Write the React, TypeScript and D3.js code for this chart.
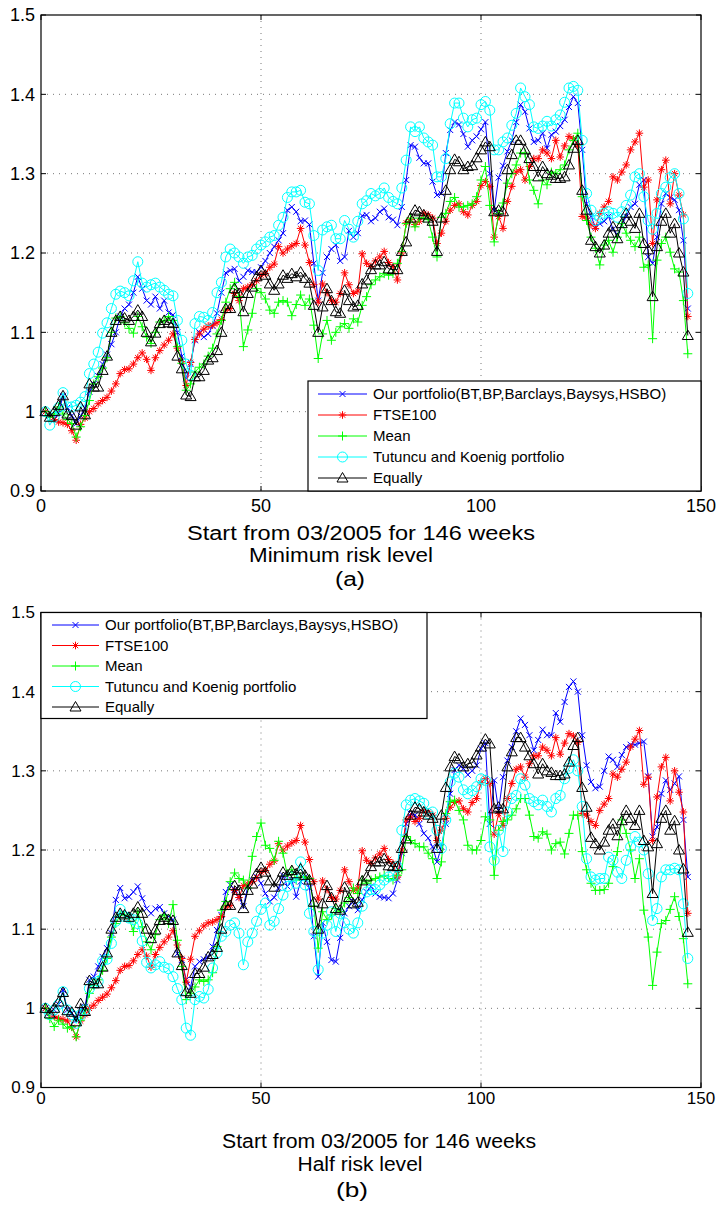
import React from 'react';
import * as d3 from 'd3';

// weekly values, weeks 1..147
const weeks = d3.range(1, 148);

const ftse100 = [
  1.000, 0.995, 0.990, 0.987, 0.986, 0.984, 0.976, 0.964, 0.984, 0.992,
  1.000, 1.004, 1.010, 1.014, 1.018, 1.026, 1.035, 1.048, 1.053, 1.054,
  1.060, 1.068, 1.074, 1.066, 1.052, 1.068, 1.077, 1.084, 1.090, 1.098,
  1.080, 1.063, 1.033, 1.062, 1.091, 1.098, 1.104, 1.108, 1.109, 1.112,
  1.116, 1.128, 1.130, 1.149, 1.140, 1.155, 1.157, 1.160, 1.165, 1.172,
  1.174, 1.182, 1.186, 1.208, 1.200, 1.205, 1.209, 1.212, 1.231, 1.210,
  1.188, 1.160, 1.138, 1.161, 1.150, 1.140, 1.138, 1.149, 1.175, 1.160,
  1.149, 1.152, 1.199, 1.187, 1.183, 1.190, 1.195, 1.202, 1.188, 1.183,
  1.166, 1.200, 1.238, 1.242, 1.236, 1.240, 1.250, 1.248, 1.244, 1.212,
  1.225, 1.240, 1.254, 1.260, 1.262, 1.252, 1.248, 1.260, 1.265, 1.285,
  1.290, 1.284, 1.220, 1.246, 1.231, 1.265, 1.284, 1.302, 1.305, 1.292,
  1.309, 1.319, 1.319, 1.330, 1.326, 1.319, 1.342, 1.321, 1.335, 1.347,
  1.344, 1.336, 1.246, 1.244, 1.236, 1.231, 1.250, 1.258, 1.265, 1.296,
  1.292, 1.302, 1.311, 1.330, 1.340, 1.351, 1.283, 1.292, 1.212, 1.267,
  1.305, 1.317, 1.262, 1.300, 1.273, 1.248, 1.120,
];

const equally = [
  1.000, 0.993, 1.000, 1.008, 1.020, 0.997, 0.995, 0.983, 1.006, 0.996,
  1.035, 1.031, 1.031, 1.052, 1.070, 1.100, 1.115, 1.120, 1.118, 1.115,
  1.120, 1.128, 1.120, 1.100, 1.088, 1.099, 1.111, 1.115, 1.112, 1.111,
  1.070, 1.054, 1.021, 1.019, 1.044, 1.044, 1.052, 1.065, 1.068, 1.077,
  1.100, 1.130, 1.130, 1.155, 1.149, 1.126, 1.149, 1.157, 1.170, 1.178,
  1.172, 1.161, 1.153, 1.161, 1.172, 1.168, 1.174, 1.170, 1.176, 1.168,
  1.162, 1.134, 1.100, 1.132, 1.155, 1.140, 1.126, 1.124, 1.153, 1.140,
  1.132, 1.134, 1.161, 1.166, 1.179, 1.185, 1.185, 1.189, 1.180, 1.179,
  1.179, 1.202, 1.214, 1.244, 1.254, 1.252, 1.248, 1.244, 1.240, 1.202,
  1.244, 1.279, 1.305, 1.318, 1.315, 1.305, 1.309, 1.310, 1.320, 1.330,
  1.340, 1.334, 1.252, 1.254, 1.252, 1.305, 1.324, 1.342, 1.342, 1.330,
  1.319, 1.309, 1.296, 1.309, 1.300, 1.298, 1.294, 1.294, 1.296, 1.311,
  1.332, 1.342, 1.279, 1.254, 1.216, 1.208, 1.200, 1.210, 1.225, 1.233,
  1.218, 1.237, 1.250, 1.240, 1.231, 1.250, 1.212, 1.204, 1.145, 1.208,
  1.240, 1.250, 1.225, 1.237, 1.200, 1.176, 1.096,
];

// (a) minimum risk level
const ourPortfolioMin = [
  1.000, 0.995, 0.990, 0.998, 1.020, 1.005, 0.995, 0.985, 0.995, 1.005,
  1.025, 1.035, 1.045, 1.060, 1.072, 1.085, 1.100, 1.120, 1.130, 1.135,
  1.150, 1.170, 1.155, 1.140, 1.135, 1.145, 1.130, 1.140, 1.125, 1.122,
  1.100, 1.070, 1.042, 1.060, 1.090, 1.100, 1.094, 1.098, 1.108, 1.124,
  1.150, 1.175, 1.178, 1.180, 1.165, 1.170, 1.178, 1.176, 1.176, 1.182,
  1.190, 1.200, 1.208, 1.216, 1.225, 1.254, 1.258, 1.252, 1.240, 1.241,
  1.236, 1.187, 1.140, 1.175, 1.195, 1.205, 1.210, 1.190, 1.195, 1.228,
  1.220, 1.225, 1.247, 1.248, 1.240, 1.244, 1.252, 1.256, 1.245, 1.242,
  1.235, 1.258, 1.292, 1.336, 1.334, 1.320, 1.313, 1.313, 1.290, 1.273,
  1.275, 1.326, 1.355, 1.365, 1.362, 1.350, 1.334, 1.342, 1.347, 1.356,
  1.365, 1.300, 1.254, 1.295, 1.310, 1.328, 1.342, 1.365, 1.387, 1.378,
  1.357, 1.340, 1.342, 1.351, 1.332, 1.349, 1.353, 1.360, 1.368, 1.384,
  1.397, 1.389, 1.330, 1.262, 1.246, 1.233, 1.237, 1.240, 1.246, 1.230,
  1.223, 1.235, 1.246, 1.258, 1.262, 1.286, 1.292, 1.195, 1.187, 1.220,
  1.262, 1.275, 1.270, 1.267, 1.254, 1.216, 1.130,
];

const meanMin = [
  1.000, 0.993, 0.997, 1.006, 0.997, 0.990, 0.985, 0.968, 0.981, 0.995,
  1.014, 1.035, 1.044, 1.055, 1.068, 1.100, 1.118, 1.120, 1.112, 1.105,
  1.099, 1.120, 1.107, 1.094, 1.086, 1.100, 1.113, 1.115, 1.120, 1.115,
  1.082, 1.061, 1.027, 1.035, 1.050, 1.056, 1.060, 1.070, 1.080, 1.098,
  1.115, 1.138, 1.155, 1.163, 1.145, 1.082, 1.103, 1.124, 1.155, 1.150,
  1.142, 1.128, 1.124, 1.138, 1.140, 1.138, 1.121, 1.135, 1.147, 1.134,
  1.142, 1.109, 1.067, 1.098, 1.115, 1.090, 1.100, 1.107, 1.111, 1.105,
  1.117, 1.113, 1.134, 1.145, 1.160, 1.166, 1.170, 1.174, 1.172, 1.174,
  1.187, 1.202, 1.237, 1.244, 1.233, 1.244, 1.244, 1.242, 1.220, 1.195,
  1.245, 1.250, 1.265, 1.270, 1.258, 1.258, 1.260, 1.262, 1.271, 1.292,
  1.309, 1.260, 1.214, 1.250, 1.263, 1.288, 1.300, 1.311, 1.326, 1.326,
  1.292, 1.279, 1.262, 1.292, 1.286, 1.302, 1.300, 1.305, 1.311, 1.330,
  1.342, 1.351, 1.271, 1.241, 1.220, 1.206, 1.185, 1.210, 1.216, 1.201,
  1.220, 1.237, 1.225, 1.216, 1.208, 1.220, 1.182, 1.185, 1.092, 1.191,
  1.212, 1.220, 1.201, 1.180, 1.176, 1.140, 1.073,
];

const tutuncuMin = [
  1.000, 0.983, 0.993, 1.005, 1.024, 1.006, 1.006, 1.008, 1.012, 1.019,
  1.048, 1.060, 1.075, 1.099, 1.112, 1.130, 1.148, 1.152, 1.150, 1.146,
  1.165, 1.189, 1.162, 1.157, 1.160, 1.162, 1.157, 1.153, 1.148, 1.146,
  1.115, 1.090, 1.060, 1.046, 1.111, 1.120, 1.119, 1.115, 1.125, 1.150,
  1.163, 1.195, 1.205, 1.200, 1.195, 1.187, 1.195, 1.197, 1.205, 1.210,
  1.214, 1.220, 1.222, 1.235, 1.245, 1.270, 1.277, 1.277, 1.279, 1.264,
  1.262, 1.222, 1.178, 1.229, 1.233, 1.235, 1.218, 1.218, 1.241, 1.230,
  1.220, 1.240, 1.262, 1.266, 1.275, 1.272, 1.275, 1.282, 1.270, 1.265,
  1.262, 1.282, 1.317, 1.359, 1.353, 1.359, 1.345, 1.340, 1.336, 1.296,
  1.296, 1.319, 1.363, 1.389, 1.389, 1.370, 1.359, 1.368, 1.370, 1.387,
  1.391, 1.380, 1.330, 1.330, 1.340, 1.345, 1.361, 1.376, 1.408, 1.397,
  1.387, 1.359, 1.357, 1.360, 1.366, 1.360, 1.368, 1.374, 1.390, 1.408,
  1.410, 1.405, 1.342, 1.275, 1.254, 1.241, 1.245, 1.250, 1.252, 1.250,
  1.245, 1.252, 1.260, 1.273, 1.296, 1.300, 1.271, 1.241, 1.230, 1.250,
  1.275, 1.283, 1.295, 1.300, 1.275, 1.243, 1.149,
];

// (b) half risk level
const ourPortfolioHalf = [
  1.000, 0.994, 0.998, 1.005, 1.023, 0.998, 0.994, 0.985, 0.998, 1.002,
  1.036, 1.040, 1.053, 1.065, 1.076, 1.095, 1.137, 1.152, 1.139, 1.141,
  1.147, 1.154, 1.139, 1.126, 1.120, 1.126, 1.128, 1.120, 1.116, 1.112,
  1.069, 1.061, 1.036, 1.027, 1.053, 1.059, 1.062, 1.065, 1.078, 1.099,
  1.118, 1.147, 1.156, 1.150, 1.140, 1.129, 1.154, 1.162, 1.166, 1.158,
  1.145, 1.135, 1.140, 1.152, 1.168, 1.154, 1.162, 1.141, 1.160, 1.166,
  1.152, 1.091, 1.040, 1.108, 1.084, 1.061, 1.059, 1.089, 1.120, 1.129,
  1.135, 1.124, 1.137, 1.147, 1.154, 1.145, 1.141, 1.140, 1.139, 1.145,
  1.162, 1.196, 1.233, 1.246, 1.244, 1.233, 1.221, 1.215, 1.204, 1.185,
  1.204, 1.233, 1.271, 1.301, 1.307, 1.303, 1.295, 1.300, 1.307, 1.328,
  1.335, 1.233, 1.288, 1.250, 1.292, 1.313, 1.330, 1.350, 1.366, 1.358,
  1.345, 1.326, 1.339, 1.352, 1.345, 1.345, 1.373, 1.362, 1.387, 1.406,
  1.413, 1.400, 1.345, 1.307, 1.286, 1.278, 1.280, 1.300, 1.318, 1.314,
  1.305, 1.320, 1.330, 1.333, 1.333, 1.335, 1.337, 1.293, 1.217, 1.229,
  1.271, 1.288, 1.276, 1.284, 1.293, 1.238, 1.166,
];

const meanHalf = [
  1.000, 0.987, 0.977, 0.985, 0.980, 0.975, 0.977, 0.964, 0.985, 0.998,
  1.019, 1.029, 1.036, 1.048, 1.063, 1.090, 1.107, 1.118, 1.118, 1.114,
  1.097, 1.122, 1.103, 1.084, 1.074, 1.093, 1.112, 1.118, 1.107, 1.131,
  1.086, 1.053, 1.011, 1.019, 1.027, 1.036, 1.034, 1.036, 1.045, 1.078,
  1.124, 1.135, 1.160, 1.171, 1.164, 1.162, 1.152, 1.192, 1.217, 1.234,
  1.206, 1.202, 1.187, 1.211, 1.196, 1.168, 1.175, 1.162, 1.166, 1.166,
  1.164, 1.129, 1.076, 1.122, 1.112, 1.118, 1.126, 1.122, 1.133, 1.140,
  1.152, 1.145, 1.162, 1.158, 1.162, 1.164, 1.166, 1.168, 1.164, 1.162,
  1.168, 1.175, 1.217, 1.212, 1.208, 1.204, 1.204, 1.196, 1.189, 1.164,
  1.185, 1.246, 1.261, 1.263, 1.250, 1.238, 1.206, 1.200, 1.200, 1.212,
  1.242, 1.238, 1.168, 1.225, 1.236, 1.238, 1.244, 1.252, 1.265, 1.265,
  1.244, 1.217, 1.215, 1.223, 1.220, 1.200, 1.208, 1.210, 1.195, 1.221,
  1.244, 1.244, 1.198, 1.175, 1.158, 1.149, 1.149, 1.150, 1.158, 1.179,
  1.198, 1.238, 1.221, 1.200, 1.164, 1.189, 1.124, 1.090, 1.029, 1.071,
  1.107, 1.111, 1.125, 1.141, 1.116, 1.088, 1.031,
];

const tutuncuHalf = [
  1.000, 0.992, 0.998, 1.005, 1.021, 0.998, 0.992, 0.981, 0.992, 0.998,
  1.025, 1.032, 1.034, 1.060, 1.062, 1.082, 1.110, 1.125, 1.116, 1.114,
  1.112, 1.107, 1.085, 1.058, 1.051, 1.055, 1.059, 1.052, 1.050, 1.040,
  1.025, 1.011, 0.975, 0.966, 1.011, 1.015, 1.013, 1.024, 1.051, 1.070,
  1.091, 1.097, 1.105, 1.108, 1.095, 1.055, 1.084, 1.095, 1.110, 1.125,
  1.133, 1.105, 1.110, 1.126, 1.143, 1.154, 1.166, 1.158, 1.185, 1.156,
  1.120, 1.097, 1.049, 1.095, 1.105, 1.122, 1.097, 1.120, 1.108, 1.100,
  1.095, 1.108, 1.129, 1.147, 1.150, 1.150, 1.156, 1.162, 1.166, 1.168,
  1.179, 1.225, 1.257, 1.263, 1.265, 1.262, 1.259, 1.246, 1.248, 1.225,
  1.202, 1.238, 1.286, 1.297, 1.292, 1.276, 1.271, 1.275, 1.280, 1.290,
  1.288, 1.204, 1.187, 1.225, 1.198, 1.248, 1.265, 1.269, 1.290, 1.282,
  1.265, 1.261, 1.257, 1.263, 1.255, 1.248, 1.265, 1.269, 1.290, 1.303,
  1.314, 1.300, 1.255, 1.189, 1.166, 1.162, 1.164, 1.164, 1.191, 1.187,
  1.172, 1.164, 1.187, 1.204, 1.217, 1.210, 1.200, 1.170, 1.111, 1.126,
  1.166, 1.175, 1.175, 1.177, 1.175, 1.132, 1.063,
];

const legendLabels = [
  'Our portfolio(BT,BP,Barclays,Baysys,HSBO)',
  'FTSE100',
  'Mean',
  'Tutuncu and Koenig portfolio',
  'Equally',
];
const yTicks = [0.9, 1, 1.1, 1.2, 1.3, 1.4, 1.5];
const xTicks = [0, 50, 100, 150];

const FONT = '"Liberation Sans", Arial, Helvetica, sans-serif';

// colour + marker per series, same order as the legend
const seriesStyle = [
  { color: '#0000ff', marker: 'x' },
  { color: '#ff0000', marker: '*' },
  { color: '#00ff00', marker: '+' },
  { color: '#00ffff', marker: 'o' },
  { color: '#000000', marker: '^' },
];

function markerPath(m: string, x: number, y: number) {
  switch (m) {
    case 'x':
      return `M${x - 3},${y - 3}L${x + 3},${y + 3}M${x - 3},${y + 3}L${x + 3},${y - 3}`;
    case '*':
      return `M${x - 3.8},${y}H${x + 3.8}M${x},${y - 3.8}V${y + 3.8}` +
        `M${x - 2.7},${y - 2.7}L${x + 2.7},${y + 2.7}M${x - 2.7},${y + 2.7}L${x + 2.7},${y - 2.7}`;
    case '+':
      return `M${x - 4.5},${y}H${x + 4.5}M${x},${y - 4.5}V${y + 4.5}`;
    case 'o':
      return `M${x - 5},${y}a5,5 0 1,0 10,0a5,5 0 1,0 -10,0`;
    default:
      return `M${x},${y - 5.5}L${x + 5.5},${y + 4}L${x - 5.5},${y + 4}Z`;
  }
}

type LabelLine = { text: string; x: number; y: number; size: number; len?: number };

type PanelProps = {
  top: number;
  bottom: number;
  data: number[][];
  tickFont: number;
  xTickBase: number;
  labels: LabelLine[];
  legend: { x: number; y: number; w: number; h: number; row0: number; step: number; l0: number; l1: number; tx: number };
};

const LEFT = 41;
const RIGHT = 701;

function Panel({ top, bottom, data, tickFont, xTickBase, labels, legend }: PanelProps) {
  const x = d3.scaleLinear().domain([0, 150]).range([LEFT, RIGHT]);
  const y = d3.scaleLinear().domain([0.9, 1.5]).range([bottom, top]);
  const line = d3.line<number>().x((_, i) => x(weeks[i])).y((d) => y(d));
  const tick = 5;

  return (
    <g>
      {/* dotted grid */}
      {yTicks.slice(1, -1).map((t) => (
        <line key={'gy' + t} x1={LEFT} x2={RIGHT} y1={y(t)} y2={y(t)}
          stroke="#555" strokeWidth={0.8} strokeDasharray="1,5" />
      ))}
      {xTicks.slice(1, -1).map((t) => (
        <line key={'gx' + t} x1={x(t)} x2={x(t)} y1={top} y2={bottom}
          stroke="#555" strokeWidth={0.8} strokeDasharray="1,5" />
      ))}

      {/* series */}
      {data.map((vals, si) => {
        const st = seriesStyle[si];
        const marks = vals.map((v, i) => markerPath(st.marker, x(weeks[i]), y(v))).join('');
        return (
          <g key={si}>
            <path d={line(vals) || ''} fill="none" stroke={st.color} strokeWidth={1} />
            <path d={marks} fill="none" stroke={st.color} strokeWidth={1} />
          </g>
        );
      })}

      {/* box + inward ticks */}
      <rect x={LEFT} y={top} width={RIGHT - LEFT} height={bottom - top} fill="none" stroke="#000" strokeWidth={1.2} />
      {yTicks.map((t) => (
        <g key={'ty' + t}>
          <line x1={LEFT} x2={LEFT + tick} y1={y(t)} y2={y(t)} stroke="#000" />
          <line x1={RIGHT} x2={RIGHT - tick} y1={y(t)} y2={y(t)} stroke="#000" />
          <text x={35} y={y(t)} dy="0.35em" textAnchor="end" fontSize={tickFont} fontFamily={FONT}>
            {d3.format('~g')(t)}
          </text>
        </g>
      ))}
      {xTicks.map((t) => (
        <g key={'tx' + t}>
          <line x1={x(t)} x2={x(t)} y1={bottom} y2={bottom - tick} stroke="#000" />
          <line x1={x(t)} x2={x(t)} y1={top} y2={top + tick} stroke="#000" />
          <text x={x(t)} y={xTickBase} textAnchor="middle" fontSize={tickFont} fontFamily={FONT}>
            {t}
          </text>
        </g>
      ))}

      {/* legend */}
      <rect x={legend.x} y={legend.y} width={legend.w} height={legend.h} fill="#fff" stroke="#000" strokeWidth={1.2} />
      {legendLabels.map((lab, i) => {
        const st = seriesStyle[i];
        const ly = legend.y + legend.row0 + i * legend.step;
        const mx = (legend.l0 + legend.l1) / 2;
        return (
          <g key={lab}>
            <line x1={legend.l0} x2={legend.l1} y1={ly} y2={ly} stroke={st.color} strokeWidth={1} />
            <path d={markerPath(st.marker, mx, ly)} fill="none" stroke={st.color} strokeWidth={1} />
            <text x={legend.tx} y={ly} dy="0.35em" fontSize={15} fontFamily={FONT}>{lab}</text>
          </g>
        );
      })}

      {/* axis label lines */}
      {labels.map((l) => (
        <text key={l.text} x={l.x} y={l.y} textAnchor="middle" fontSize={l.size} fontFamily={FONT}
          {...(l.len ? { textLength: l.len, lengthAdjust: 'spacingAndGlyphs' } : {})}>
          {l.text}
        </text>
      ))}
    </g>
  );
}

export default function App() {
  return (
    <svg width={717} height={1208} style={{ position: 'absolute', left: 0, top: 0, background: '#fff' }}>
      <Panel
        top={15}
        bottom={491}
        data={[ourPortfolioMin, ftse100, meanMin, tutuncuMin, equally]}
        tickFont={18}
        xTickBase={512}
        labels={[
          { text: 'Start from 03/2005 for 146 weeks', x: 361, y: 540, size: 19.5, len: 348 },
          { text: 'Minimum risk level', x: 341, y: 562, size: 19.5, len: 184 },
          { text: '(a)', x: 350, y: 586, size: 20, len: 30 },
        ]}
        legend={{ x: 308, y: 381, w: 393, h: 110, row0: 13, step: 21, l0: 318, l1: 367, tx: 373 }}
      />
      <Panel
        top={612.5}
        bottom={1087.5}
        data={[ourPortfolioHalf, ftse100, meanHalf, tutuncuHalf, equally]}
        tickFont={17}
        xTickBase={1104}
        labels={[
          { text: 'Start from 03/2005 for 146 weeks', x: 379, y: 1148, size: 20, len: 314 },
          { text: 'Half risk level', x: 360, y: 1171, size: 20, len: 125 },
          { text: '(b)', x: 352, y: 1197, size: 20, len: 32 },
        ]}
        legend={{ x: 41, y: 612.5, w: 386, h: 106, row0: 12.5, step: 20.5, l0: 52, l1: 99, tx: 105 }}
      />
    </svg>
  );
}
